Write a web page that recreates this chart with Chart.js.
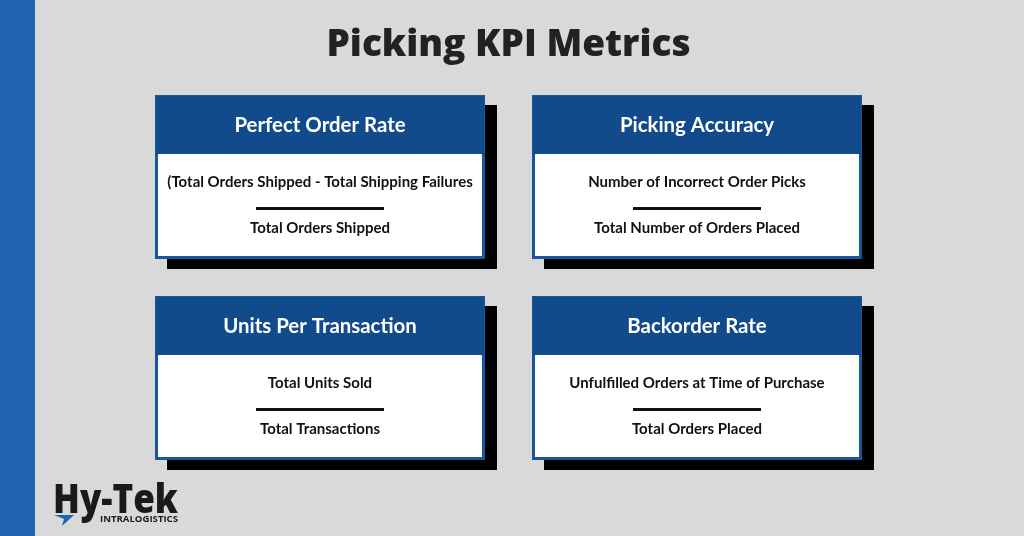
<!DOCTYPE html>
<html>
<head>
<meta charset="utf-8">
<script src="https://cdn.jsdelivr.net/npm/chart.js@4/dist/chart.umd.min.js"></script>
<style>
  html, body { margin: 0; padding: 0; background: #d9d9d9; }
  #kpi { display: block; }
</style>
</head>
<body>
<canvas id="kpi" width="1024" height="536"></canvas>
<script>
// card content
const cols = ["left", "right"];
const rows = ["top", "bottom"];
const cardCol = ["left", "right", "left", "right"];
const cardRow = ["top", "top", "bottom", "bottom"];
const titles = ["Perfect Order Rate", "Picking Accuracy", "Units Per Transaction", "Backorder Rate"];
const numerators = [
  "(Total Orders Shipped - Total Shipping Failures",
  "Number of Incorrect Order Picks",
  "Total Units Sold",
  "Unfulfilled Orders at Time of Purchase"
];
const denominators = ["Total Orders Shipped", "Total Number of Orders Placed", "Total Transactions", "Total Orders Placed"];

const BLUE = "#124b8c";
const BG = "#d9d9d9";

// draws background, side bar, logo
const backdrop = {
  id: "backdrop",
  beforeDraw(chart) {
    const ctx = chart.ctx;
    ctx.save();
    ctx.fillStyle = BG;
    ctx.fillRect(0, 0, chart.width, chart.height);
    ctx.fillStyle = "#1f63b1";
    ctx.fillRect(0, 0, 35, chart.height);
    ctx.restore();
  },
  afterDraw(chart) {
    const ctx = chart.ctx;
    ctx.save();
    // logo
    ctx.fillStyle = "#1a1a1a";
    ctx.textBaseline = "alphabetic";
    ctx.textAlign = "left";
    ctx.font = "800 40px 'Open Sans'";
    const w = ctx.measureText("Hy-Tek").width;
    ctx.translate(53, 513);
    ctx.scale(125 / w, 1);
    ctx.fillText("Hy-Tek", 0, 0);
    ctx.setTransform(1, 0, 0, 1, 0, 0);
    ctx.font = "bold 9px 'Open Sans'";
    const w2 = ctx.measureText("INTRALOGISTICS").width;
    ctx.translate(100, 522);
    ctx.scale(78 / w2, 1);
    ctx.fillText("INTRALOGISTICS", 0, 0);
    ctx.setTransform(1, 0, 0, 1, 0, 0);
    ctx.fillStyle = "#1f63b1";
    ctx.beginPath();
    ctx.moveTo(54, 515);
    ctx.lineTo(74, 515);
    ctx.lineTo(62, 526);
    ctx.lineTo(64, 519);
    ctx.closePath();
    ctx.fill();
    ctx.restore();
  }
};

// draws each KPI card at its point position
const cards = {
  id: "cards",
  afterDatasetsDraw(chart) {
    const ctx = chart.ctx;
    const pts = chart.getDatasetMeta(0).data;
    const cw = 330, ch = 164, hh = 59, bw = 3;
    ctx.save();
    pts.forEach((p, i) => {
      const x0 = Math.round(p.x - cw / 2), y0 = Math.round(p.y - ch / 2);
      ctx.fillStyle = "#000";
      ctx.fillRect(x0 + 12, y0 + 10, cw, ch);
      ctx.fillStyle = "#1a56a0";
      ctx.fillRect(x0, y0, cw, ch);
      ctx.fillStyle = BLUE;
      ctx.fillRect(x0 + 1, y0 + 1, cw - 2, hh);
      ctx.fillStyle = "#fff";
      ctx.fillRect(x0 + bw, y0 + hh, cw - 2 * bw, ch - hh - bw);
      const cx = x0 + cw / 2;
      ctx.textAlign = "center";
      ctx.textBaseline = "middle";
      ctx.fillStyle = "#fff";
      ctx.font = "bold 20.4px Lato";
      ctx.fillText(titles[i], cx, y0 + 30);
      ctx.fillStyle = "#111";
      ctx.font = "bold 15px Lato";
      ctx.fillText(numerators[i], cx, y0 + 87);
      ctx.fillText(denominators[i], cx, y0 + 133);
      ctx.fillRect(cx - 64, y0 + 112, 128, 3);
    });
    ctx.restore();
  }
};

new Chart(document.getElementById("kpi"), {
  type: "scatter",
  data: {
    datasets: [{
      data: titles.map((t, i) => ({ x: cardCol[i], y: cardRow[i] })),
      pointRadius: 0
    }]
  },
  options: {
    responsive: false,
    animation: false,
    devicePixelRatio: 1,
    layout: { padding: { left: 132, right: 139, top: 0, bottom: 58 } },
    scales: {
      x: { type: "category", labels: cols, offset: true, display: false },
      y: { type: "category", labels: rows, offset: true, display: false }
    },
    plugins: {
      legend: { display: false },
      tooltip: { enabled: false },
      title: {
        display: true,
        text: "Picking KPI Metrics",
        color: "#222",
        font: { family: "'Open Sans'", size: 37, weight: "800", lineHeight: 1.2 },
        padding: { top: 23, bottom: 9.6 }
      }
    }
  },
  plugins: [backdrop, cards]
});
</script>
</body>
</html>
